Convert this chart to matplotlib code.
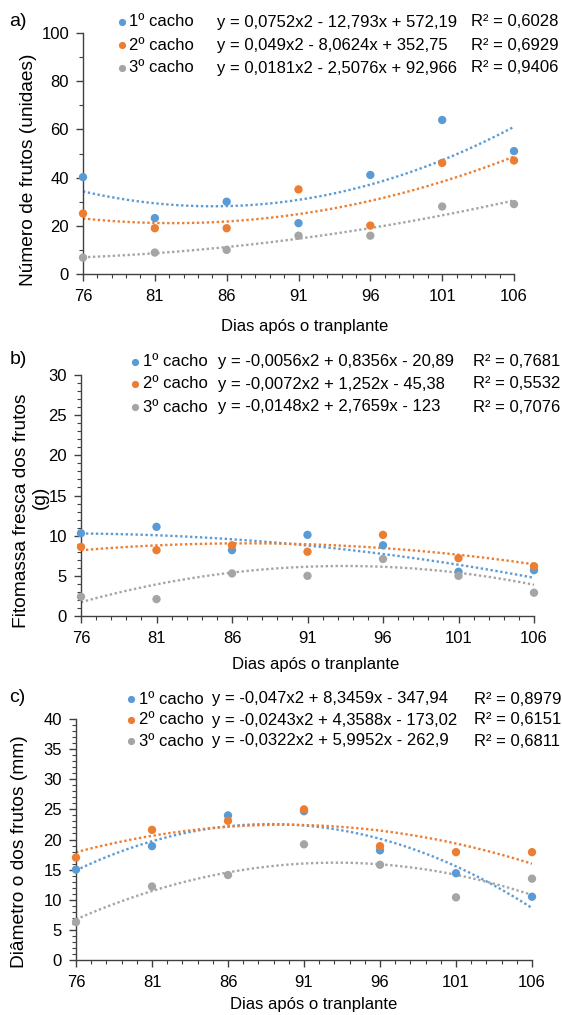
import matplotlib
matplotlib.use("Agg")
import matplotlib.pyplot as plt
import numpy as np
from matplotlib.ticker import MultipleLocator
from matplotlib.lines import Line2D

plt.rcParams['font.family'] = ['Liberation Sans', 'DejaVu Sans']

days = [76, 81, 86, 91, 96, 101, 106]
series_names = ["1º cacho", "2º cacho", "3º cacho"]
colors = ["#5B9BD5", "#ED7D31", "#A5A5A5"]

# Panel a: Número de frutos
a_c1 = [40.2, 23.2, 30.0, 21.1, 41.1, 63.9, 51.0]
a_c2 = [25.1, 19.0, 19.0, 35.1, 20.1, 46.1, 47.1]
a_c3 = [6.8, 8.9, 10.0, 15.9, 15.9, 28.0, 29.0]
a_coef = [(0.0752, -12.793, 572.19), (0.049, -8.0624, 352.75), (0.0181, -2.5076, 92.966)]
a_eq = ["y = 0,0752x2 - 12,793x + 572,19", "y = 0,049x2 - 8,0624x + 352,75", "y = 0,0181x2 - 2,5076x + 92,966"]
a_r2 = ["R² = 0,6028", "R² = 0,6929", "R² = 0,9406"]

# Panel b: Fitomassa fresca
b_c1 = [10.3, 11.1, 8.2, 10.1, 8.8, 5.5, 5.7]
b_c2 = [8.6, 8.2, 8.8, 8.0, 10.1, 7.2, 6.2]
b_c3 = [2.4, 2.1, 5.3, 5.0, 7.1, 5.0, 2.9]
b_coef = [(-0.0056, 0.8356, -20.89), (-0.0072, 1.252, -45.38), (-0.0148, 2.7659, -123)]
b_eq = ["y = -0,0056x2 + 0,8356x - 20,89", "y = -0,0072x2 + 1,252x - 45,38", "y = -0,0148x2 + 2,7659x - 123"]
b_r2 = ["R² = 0,7681", "R² = 0,5532", "R² = 0,7076"]

# Panel c: Diâmetro
c_c1 = [15.0, 18.9, 24.0, 24.7, 18.2, 14.4, 10.5]
c_c2 = [17.0, 21.6, 23.1, 25.0, 18.9, 17.9, 17.9]
c_c3 = [6.3, 12.2, 14.1, 19.2, 15.8, 10.4, 13.5]
c_coef = [(-0.047, 8.3459, -347.94), (-0.0243, 4.3588, -173.02), (-0.0322, 5.9952, -262.9)]
c_eq = ["y = -0,047x2 + 8,3459x - 347,94", "y = -0,0243x2 + 4,3588x - 173,02", "y = -0,0322x2 + 5,9952x - 262,9"]
c_r2 = ["R² = 0,8979", "R² = 0,6151", "R² = 0,6811"]

W, H = 562, 1015
fig = plt.figure(figsize=(W / 100, H / 100), dpi=100)

def px_axes(l, r, t, b):
    return fig.add_axes([l / W, (H - b) / H, (r - l) / W, (b - t) / H])

def fx(x):
    return x / W

def fy(y):
    return 1 - y / H

FS_TICK = 12
FS_LAB = 12
FS_YLAB = 13.8
FS_LEG = 12
SPINE = '#404040'

def draw_panel(ax, data, coefs, ylim, ymaj, ymin):
    xs = np.linspace(days[0], days[-1], 300)
    for vals, coef, col in zip(data, coefs, colors):
        ys = np.polyval(coef, xs)
        ax.plot(xs, ys, linestyle=(0, (1, 1.1)), color=col, lw=1.7, zorder=2)
    for vals, col in zip(data, colors):
        ax.scatter(days, vals, s=36, color=col, zorder=3, clip_on=False, edgecolors='none')
    ax.set_xlim(76, 106)
    ax.set_ylim(*ylim)
    ax.set_xticks(days)
    ax.xaxis.set_minor_locator(MultipleLocator(1))
    ax.yaxis.set_major_locator(MultipleLocator(ymaj))
    ax.yaxis.set_minor_locator(MultipleLocator(ymin))
    for s in ['top', 'right']:
        ax.spines[s].set_visible(False)
    for s in ['left', 'bottom']:
        ax.spines[s].set_color(SPINE)
        ax.spines[s].set_linewidth(1.0)
    ax.tick_params(axis='both', which='major', labelsize=FS_TICK, direction='out', length=5,
                   width=1.0, color=SPINE)
    ax.tick_params(axis='x', which='major', pad=5.5)
    ax.tick_params(axis='y', which='major', pad=5)
    ax.tick_params(axis='both', which='minor', direction='out', length=3, width=0.8, color=SPINE)

def legend_block(mx, lx, ex, rx, rows, eqs, r2s):
    for i, (yy, name, eq, r2) in enumerate(zip(rows, series_names, eqs, r2s)):
        fig.add_artist(Line2D([fx(mx)], [fy(yy)], marker='o', markersize=5.2, color=colors[i],
                              markeredgewidth=0, linestyle='none', transform=fig.transFigure))
        fig.text(fx(lx), fy(yy), name, fontsize=FS_LEG, ha='left', va='center')
        fig.text(fx(ex), fy(yy), eq, fontsize=FS_LEG, ha='left', va='center')
        fig.text(fx(rx), fy(yy), r2, fontsize=FS_LEG, ha='left', va='center')

# Panel a
axa = px_axes(83, 514, 33, 274)
draw_panel(axa, [a_c1, a_c2, a_c3], a_coef, (0, 100), 20, 10)
fig.text(fx(29), fy(170), "Número de frutos (unidaes)", fontsize=FS_YLAB, rotation=90,
         ha='center', va='center')
fig.text(fx(305), fy(326), "Dias após o tranplante", fontsize=FS_LAB, ha='center', va='center')
fig.text(fx(9), fy(21), "a)", fontsize=14, ha='left', va='center')
legend_block(122, 129, 217, 471, [22, 45, 68], a_eq, a_r2)

# Panel b
axb = px_axes(81, 534, 375, 616)
draw_panel(axb, [b_c1, b_c2, b_c3], b_coef, (0, 30), 5, 1)
fig.text(fx(22), fy(511), "Fitomassa fresca dos frutos", fontsize=FS_YLAB, rotation=90,
         ha='center', va='center')
fig.text(fx(40), fy(497), "(g)", fontsize=FS_YLAB, rotation=90, ha='center', va='center')
fig.text(fx(316), fy(664), "Dias após o tranplante", fontsize=FS_LAB, ha='center', va='center')
fig.text(fx(10), fy(359), "b)", fontsize=14, ha='left', va='center')
legend_block(135, 143, 218, 473, [362, 384, 407], b_eq, b_r2)

# Panel c
axc = px_axes(76, 532, 719, 960)
draw_panel(axc, [c_c1, c_c2, c_c3], c_coef, (0, 40), 5, 1)
fig.text(fx(20), fy(852), "Diâmetro o dos frutos (mm)", fontsize=FS_YLAB, rotation=90,
         ha='center', va='center')
fig.text(fx(314), fy(1005), "Dias após o tranplante", fontsize=FS_LAB, ha='center', va='center')
fig.text(fx(9), fy(697), "c)", fontsize=14, ha='left', va='center')
legend_block(131, 139, 212, 474, [699, 720, 741], c_eq, c_r2)

fig.savefig("out.png", dpi=100)
